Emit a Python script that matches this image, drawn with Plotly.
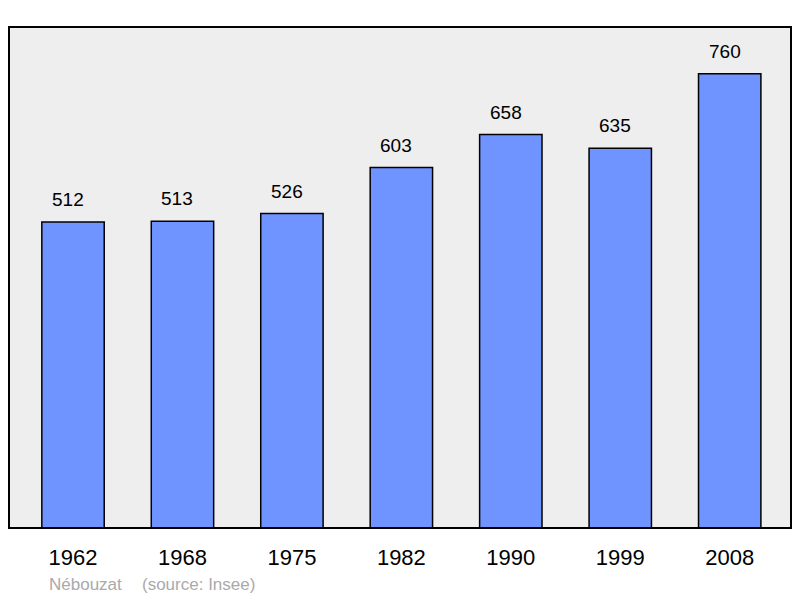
import plotly.graph_objects as go

# population by census year
years = ["1962", "1968", "1975", "1982", "1990", "1999", "2008"]
population = [512, 513, 526, 603, 658, 635, 760]

FONT = "Liberation Sans, Arial, sans-serif"

fig = go.Figure()

fig.add_trace(go.Bar(
    x=years,
    y=population,
    width=0.57,
    marker=dict(color="#7094ff", line=dict(color="#000000", width=1.5)),
    hoverinfo="x+y",
    showlegend=False,
))

# value labels above each bar (category index, numeric strings would be read as indices)
for i, val in enumerate(population):
    fig.add_annotation(
        x=i, y=val, xref="x", yref="y", text=str(val), showarrow=False,
        yanchor="bottom", yshift=10, xshift=-5,
        font=dict(family=FONT, size=19, color="#000000"),
    )

# footer (positions in paper units: plot area is 782 x 501 px)
fig.add_annotation(
    x=(47 - 9) / 782, y=-(584 - 528) / 501, xref="paper", yref="paper",
    text="Nébouzat", showarrow=False, xanchor="left", yanchor="middle",
    font=dict(family=FONT, size=17, color="#aaaaaa"),
)
fig.add_annotation(
    x=(140 - 9) / 782, y=-(584 - 528) / 501, xref="paper", yref="paper",
    text="(source: Insee)", showarrow=False, xanchor="left", yanchor="middle",
    font=dict(family=FONT, size=17, color="#aaaaaa"),
)

fig.add_shape(
    type="rect", xref="paper", yref="paper", x0=0, x1=1, y0=0, y1=1,
    line=dict(color="#000000", width=2), layer="above",
)

fig.update_layout(
    width=800, height=598,
    margin=dict(l=9, r=9, t=27, b=70),
    paper_bgcolor="#ffffff",
    plot_bgcolor="#eeeeee",
    font=dict(family=FONT),
    xaxis=dict(
        type="category",
        range=[-0.585, 6.56], showgrid=False, zeroline=False, ticks="",
        ticklabelstandoff=14,
        tickfont=dict(size=22, color="#000000"),
    ),
    yaxis=dict(range=[0, 838], showgrid=False, zeroline=False, showticklabels=False),
)

fig.write_html("out.html", config={"displayModeBar": False},
               post_script="document.body.style.margin='0';")
